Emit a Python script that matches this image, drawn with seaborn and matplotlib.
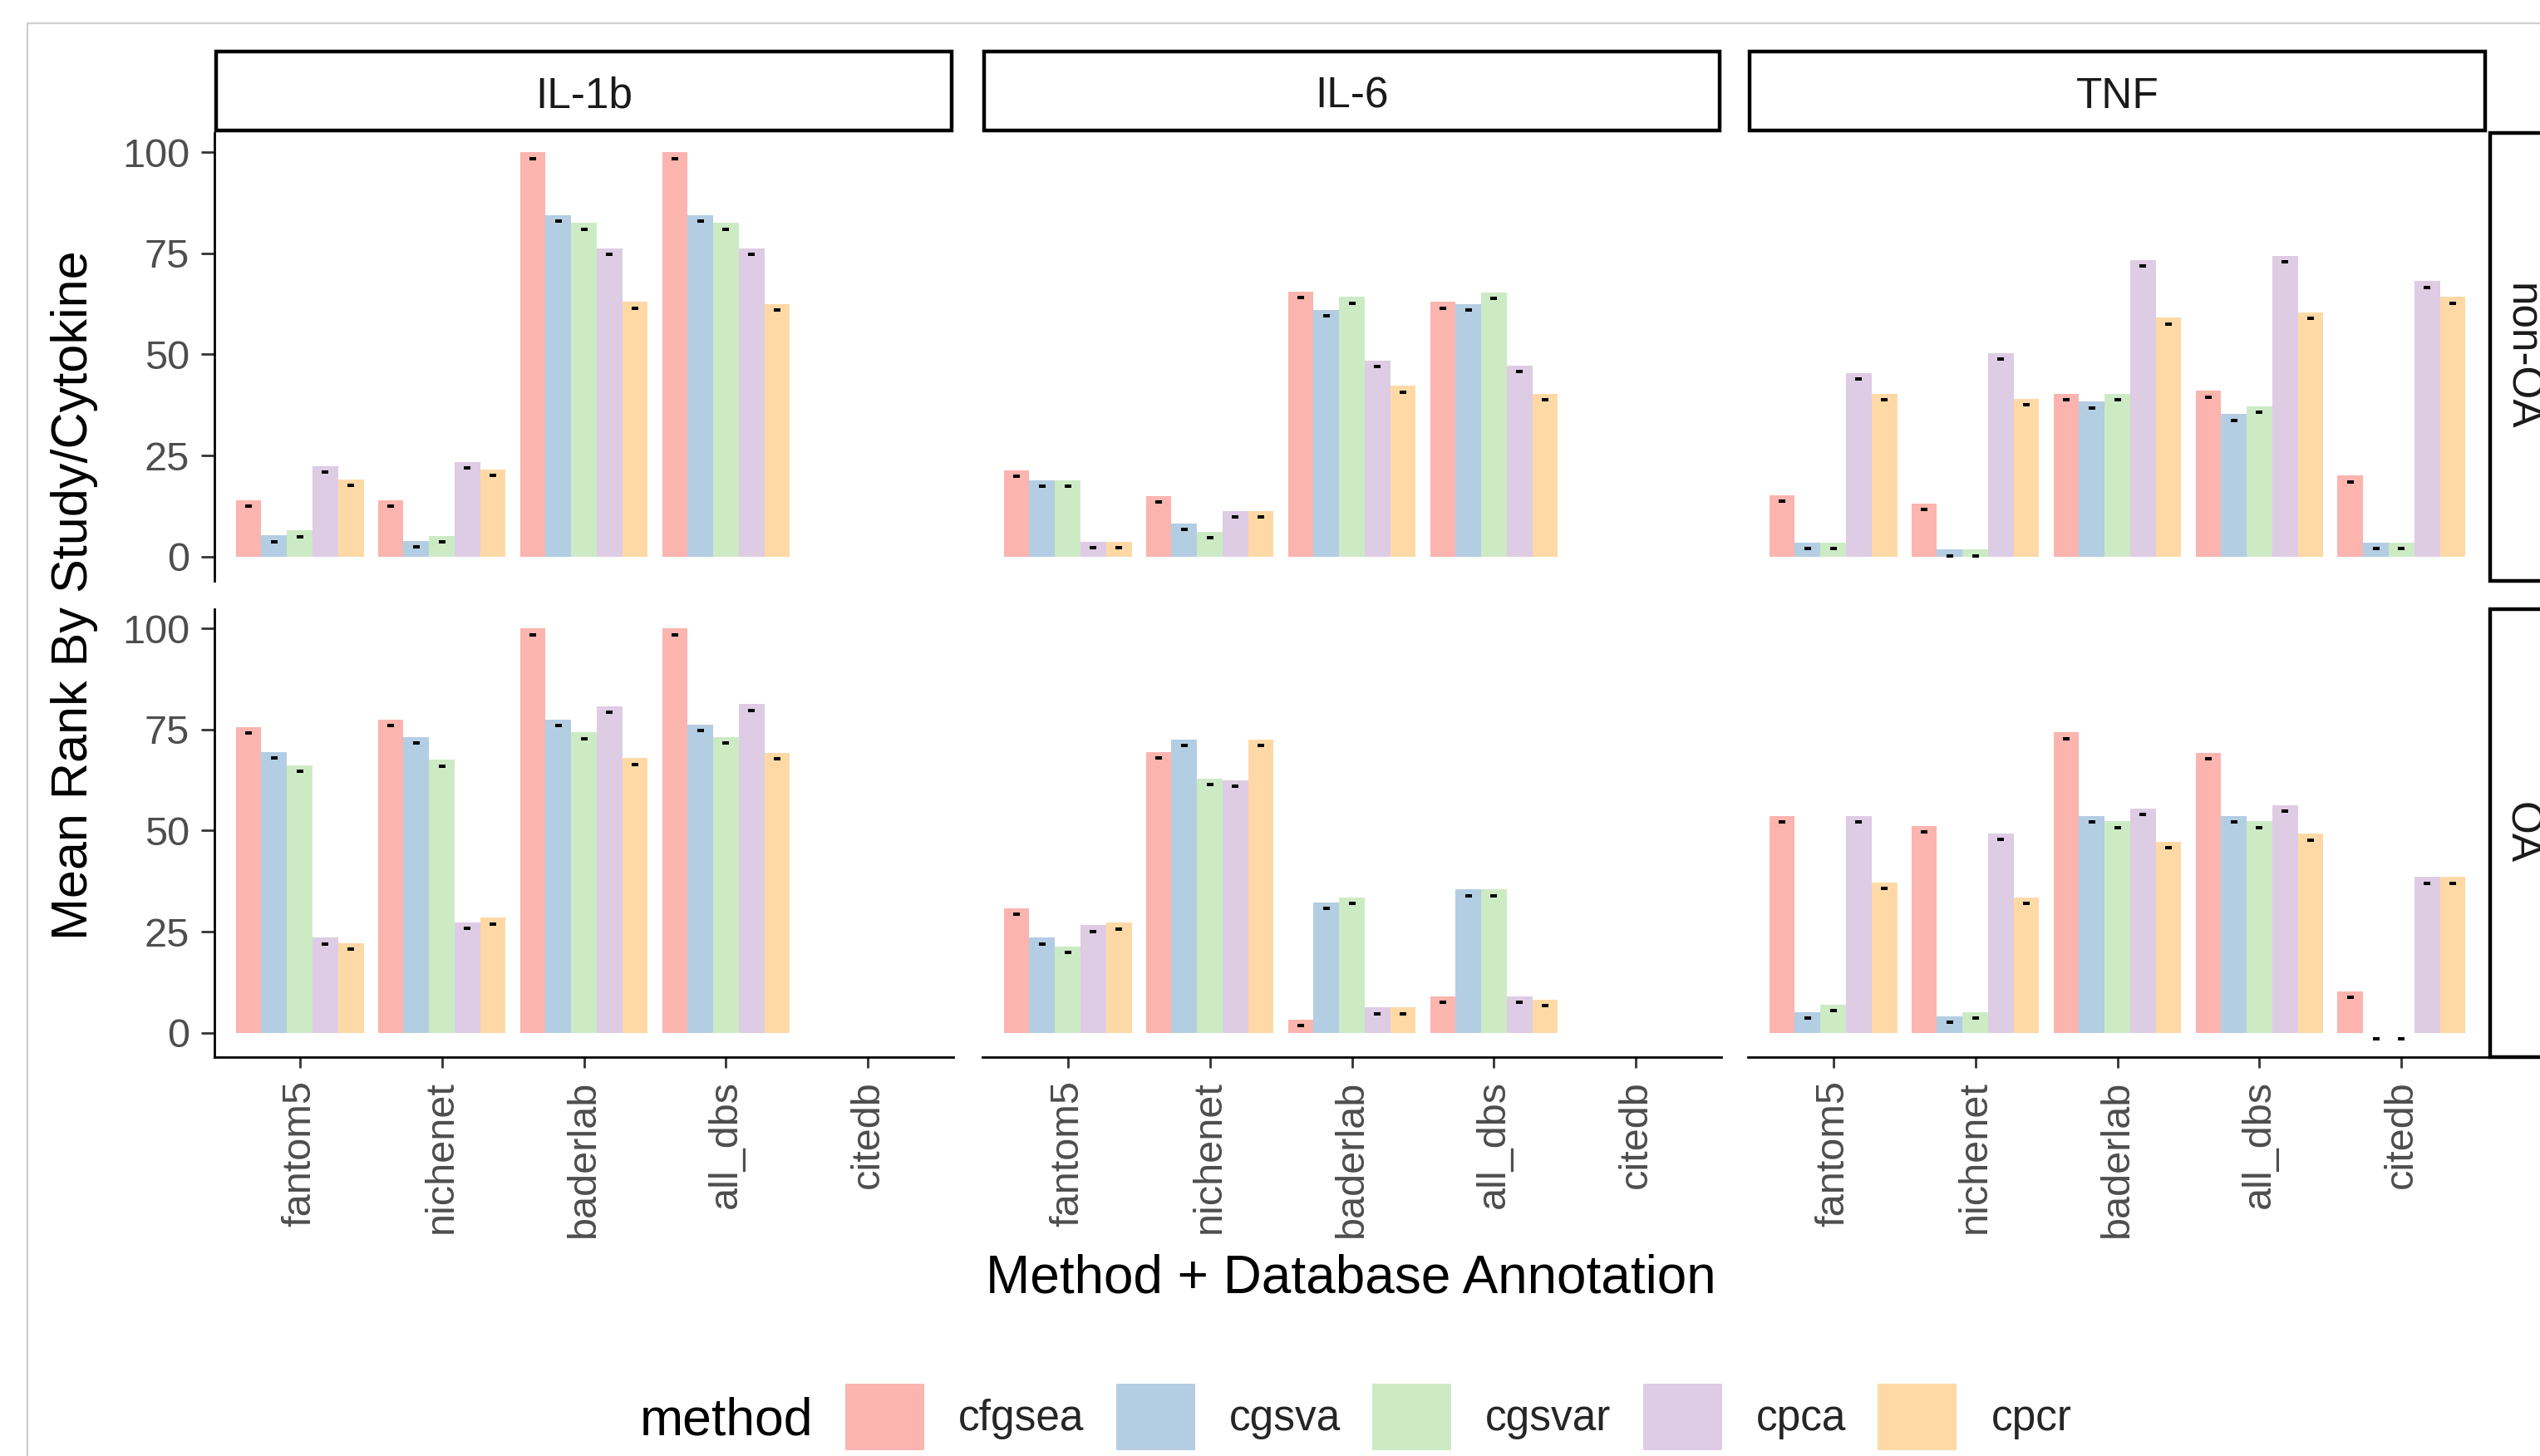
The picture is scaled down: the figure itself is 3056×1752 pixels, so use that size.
import numpy as np
import pandas as pd
import matplotlib
matplotlib.use("Agg")
import matplotlib.pyplot as plt
import seaborn as sns
from matplotlib.patches import Rectangle, Patch
from matplotlib.lines import Line2D

# ---------------- data ----------------
databases = ["fantom5", "nichenet", "baderlab", "all_dbs", "citedb"]
methods = ["cfgsea", "cgsva", "cgsvar", "cpca", "cpcr"]
cytokines = ["IL-1b", "IL-6", "TNF"]
groups = ["non-OA", "OA"]
colors = ["#FBB4AE", "#B3CDE3", "#CCEBC5", "#DECBE4", "#FED9A6"]
nan = np.nan

il1b_nonoa = {
    "cfgsea": [14.0, 14.0, 100.0, 100.0, nan],
    "cgsva":  [5.2, 3.8, 84.4, 84.4, nan],
    "cgsvar": [6.4, 5.1, 82.5, 82.5, nan],
    "cpca":   [22.3, 23.4, 76.2, 76.2, nan],
    "cpcr":   [19.1, 21.5, 63.0, 62.4, nan],
}
il6_nonoa = {
    "cfgsea": [21.4, 14.9, 65.5, 63.0, nan],
    "cgsva":  [18.8, 8.1, 61.0, 62.4, nan],
    "cgsvar": [18.8, 6.1, 64.2, 65.4, nan],
    "cpca":   [3.7, 11.3, 48.5, 47.3, nan],
    "cpcr":   [3.7, 11.3, 42.2, 40.3, nan],
}
tnf_nonoa = {
    "cfgsea": [15.1, 13.1, 40.3, 41.0, 20.0],
    "cgsva":  [3.5, 1.7, 38.3, 35.2, 3.5],
    "cgsvar": [3.5, 1.7, 40.3, 37.2, 3.5],
    "cpca":   [45.4, 50.4, 73.3, 74.4, 68.1],
    "cpcr":   [40.3, 39.0, 59.1, 60.4, 64.2],
}
il1b_oa = {
    "cfgsea": [75.6, 77.5, 100.0, 100.0, nan],
    "cgsva":  [69.4, 73.1, 77.5, 76.3, nan],
    "cgsvar": [66.1, 67.5, 74.3, 73.1, nan],
    "cpca":   [23.5, 27.3, 80.7, 81.3, nan],
    "cpcr":   [22.2, 28.4, 67.9, 69.3, nan],
}
il6_oa = {
    "cfgsea": [30.8, 69.4, 3.2, 9.0, nan],
    "cgsva":  [23.5, 72.5, 32.2, 35.4, nan],
    "cgsvar": [21.4, 62.9, 33.5, 35.4, nan],
    "cpca":   [26.6, 62.4, 6.2, 9.0, nan],
    "cpcr":   [27.2, 72.5, 6.2, 8.2, nan],
}
tnf_oa = {
    "cfgsea": [53.6, 51.2, 74.3, 69.3, 10.2],
    "cgsva":  [5.1, 4.0, 53.6, 53.6, 0.0],
    "cgsvar": [7.0, 5.1, 52.3, 52.3, 0.0],
    "cpca":   [53.6, 49.3, 55.4, 56.3, 38.5],
    "cpcr":   [37.2, 33.5, 47.3, 49.2, 38.5],
}
panels = {
    ("non-OA", "IL-1b"): il1b_nonoa, ("non-OA", "IL-6"): il6_nonoa, ("non-OA", "TNF"): tnf_nonoa,
    ("OA", "IL-1b"): il1b_oa, ("OA", "IL-6"): il6_oa, ("OA", "TNF"): tnf_oa,
}
y_ticks = [0, 25, 50, 75, 100]

# ---------------- style ----------------
sns.set_style("white")
plt.rcParams["font.family"] = ["Liberation Sans", "DejaVu Sans"]

W, H = 3056, 1752
DPI = 200
fig = plt.figure(figsize=(W / DPI, H / DPI), dpi=DPI)
fig.patch.set_facecolor("white")

def fx(px):
    return px / W

def fy(py):
    return 1 - py / H

col_left = [258, 1182, 2103]
col_w = 889
row_top = [160, 733]
row_h = 539

TICK_COL = "#4D4D4D"
STRIP_TXT = "#1A1A1A"
ERR_OFFSET = 1.5
dash_marker = [(-1.0, -0.45), (1.0, -0.45), (1.0, 0.45), (-1.0, 0.45), (-1.0, -0.45)]

for r, grp in enumerate(groups):
    for c, cyt in enumerate(cytokines):
        ax = fig.add_axes([fx(col_left[c]), fy(row_top[r] + row_h), fx(col_w), row_h / H])
        d = panels[(grp, cyt)]
        rows = []
        for m in methods:
            for db, v in zip(databases, d[m]):
                if not np.isnan(v):
                    rows.append({"database": db, "method": m, "rank": v})
        df = pd.DataFrame(rows)
        sns.barplot(data=df, x="database", y="rank", hue="method", order=databases,
                    hue_order=methods, palette=colors, width=0.9, gap=0, saturation=1,
                    errorbar=None, legend=False, linewidth=0, ax=ax)
        # small black summary marks just below each bar top
        xs, ys = [], []
        for p in ax.patches:
            h = p.get_height()
            if np.isfinite(h):
                xs.append(p.get_x() + p.get_width() / 2)
                ys.append(h - ERR_OFFSET)
        ax.plot(xs, ys, linestyle="none", marker=dash_marker, ms=2.6, color="black", mew=0)

        ax.set_xlim(-0.6, 4.6)
        ax.set_ylim(-6.05, 104.8)
        ax.set_xlabel("")
        ax.set_ylabel("")
        ax.set_facecolor("white")
        for s in ["top", "right"]:
            ax.spines[s].set_visible(False)
        ax.spines["left"].set_visible(c == 0)
        ax.spines["bottom"].set_visible(r == 1)
        for s in ["left", "bottom"]:
            ax.spines[s].set_color("black")
            ax.spines[s].set_linewidth(1.0)

        ax.set_yticks(y_ticks)
        if c == 0:
            ax.set_yticklabels([str(t) for t in y_ticks])
            ax.tick_params(axis="y", left=True, length=5.8, width=1.0, color="#333333",
                           pad=5, labelsize=17.5, labelcolor=TICK_COL)
        else:
            ax.tick_params(axis="y", left=False, labelleft=False)

        if r == 1:
            ax.set_xticks(range(len(databases)))
            ax.set_xticklabels(databases, rotation=90, va="top", ha="center")
            ax.tick_params(axis="x", bottom=True, length=4.7, width=1.0, color="#333333",
                           pad=5.4, labelsize=17.5, labelcolor=TICK_COL)
        else:
            ax.tick_params(axis="x", bottom=False, labelbottom=False)

# ---------------- strips ----------------
for c, cyt in enumerate(cytokines):
    fig.add_artist(Rectangle((fx(col_left[c] + 2), fy(157)), fx(col_w - 4), 95 / H,
                             transform=fig.transFigure, facecolor="white",
                             edgecolor="black", linewidth=1.6))
    fig.text(fx(col_left[c] + col_w / 2), fy(116), cyt, ha="center", va="center",
             fontsize=18.5, color=STRIP_TXT)

for r, grp in enumerate(groups):
    fig.add_artist(Rectangle((fx(2996), fy(row_top[r] + row_h)), fx(94), row_h / H,
                             transform=fig.transFigure, facecolor="white",
                             edgecolor="black", linewidth=1.6))
    fig.text(fx(3033), fy(row_top[r] + row_h / 2), grp, ha="center", va="center",
             rotation=270, fontsize=18.5, color=STRIP_TXT)

# ---------------- axis titles ----------------
fig.text(fx(1625), fy(1538), "Method + Database Annotation", ha="center", va="center",
         fontsize=23, color="black")
fig.text(fx(90), fy(716), "Mean Rank By Study/Cytokine", ha="center", va="center",
         rotation=90, fontsize=22, color="black")

# ---------------- legend ----------------
handles = [Patch(facecolor=col, edgecolor="none", label=m) for m, col in zip(methods, colors)]
fig.legend(handles=handles, loc="center left", bbox_to_anchor=(fx(1017), fy(1705)),
           ncol=5, frameon=False, fontsize=18.5, handlelength=1.85, handleheight=2.0,
           handletextpad=0.8, columnspacing=0.74, borderpad=0, borderaxespad=0)
fig.text(fx(770), fy(1710), "method", ha="left", va="center", fontsize=22.5, color="black")

# ---------------- screenshot frame ----------------
fig.add_artist(Line2D([fx(33), 1.0], [fy(28), fy(28)], transform=fig.transFigure,
                      color="#CFCFCF", linewidth=0.8))
fig.add_artist(Line2D([fx(33), fx(33)], [fy(28), 0.0], transform=fig.transFigure,
                      color="#CFCFCF", linewidth=0.8))

fig.savefig("out.png", dpi=DPI, facecolor="white")
